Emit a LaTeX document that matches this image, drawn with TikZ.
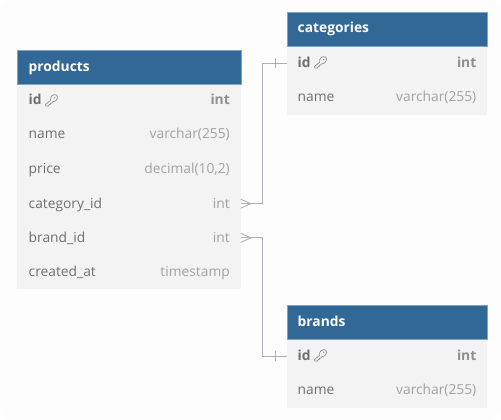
\documentclass[tikz,border=0pt]{standalone}
\usepackage{fontspec}
\setmainfont{Open Sans}
\definecolor{hdr}{HTML}{316896}
\definecolor{hdrline}{HTML}{7FA3C4}
\definecolor{rowbg}{HTML}{F3F3F3}
\definecolor{fieldc}{HTML}{6F6F6F}
\definecolor{typec}{HTML}{A3A3A3}
\definecolor{typeb}{HTML}{8F8F8F}
\definecolor{linkc}{HTML}{B0AFB8}
\definecolor{pagebg}{HTML}{FDFDFD}
\tikzset{
  x=1pt,y=-1pt,
  header/.style={fill=hdr,draw=hdrline,line width=0.5pt,minimum height=34pt,inner sep=0pt,outer sep=0pt,anchor=north west},
  headtext/.style={text=white,font=\fontsize{13.8}{16}\selectfont\bfseries,anchor=base west,inner sep=0pt},
  rowbox/.style={fill=rowbg,minimum height=34.2pt,inner sep=0pt,outer sep=0pt,anchor=north west},
  fname/.style={text=fieldc,font=\fontsize{13.8}{16}\selectfont,anchor=base west,inner sep=0pt},
  fnamek/.style={text=fieldc,font=\fontsize{13.8}{16}\selectfont\bfseries,anchor=base west,inner sep=0pt},
  ftype/.style={text=typec,font=\fontsize{13.8}{16}\selectfont,anchor=base east,inner sep=0pt},
  ftypek/.style={text=typeb,font=\fontsize{13.8}{16}\selectfont\bfseries,anchor=base east,inner sep=0pt},
  link/.style={draw=linkc,line width=1.1pt},
  keyicon/.style={draw=typeb,line width=0.7pt,line join=round}
}
\newcommand{\keyat}[2]{%
  \begin{scope}[shift={(#1,#2)},scale=1.3]
    \draw[keyicon] (3.4,-3.6) .. controls (2.6,-6.8) and (6,-8.9) .. (8,-7.6) .. controls (9.6,-6) and (8.2,-2.6) .. (5.1,-2.5) -- (4.2,-1.4) -- (3.3,-1.4) -- (3.2,-0.4) -- (2.1,-0.3) -- (1.9,0.7) -- (-0.4,0.8) -- (-0.5,-0.4) -- cycle;
    \fill[typeb] (6.6,-5.7) circle[radius=0.6];
  \end{scope}}
\begin{document}
\begin{tikzpicture}
\useasboundingbox (0,0) rectangle (501,420);
\fill[white] (0,0) rectangle (501,420);
\fill[pagebg,rounded corners=12pt] (0,0) rectangle (501,420);
% products
\node[rowbox,minimum width=223.5pt] (pid) at (17.25,84) {};
\node[rowbox,minimum width=223.5pt] (pname) at (17.25,118.2) {};
\node[rowbox,minimum width=223.5pt] (pprice) at (17.25,152.4) {};
\node[rowbox,minimum width=223.5pt] (pcat) at (17.25,186.6) {};
\node[rowbox,minimum width=223.5pt] (pbrand) at (17.25,220.8) {};
\node[rowbox,minimum width=223.5pt] (pcreated) at (17.25,255) {};
\node[header,minimum width=223.5pt] (phead) at (17.25,50.25) {};
\node[headtext] (pht) at (28.5,71) {products};
\node[fnamek] (pn1) at (28.5,105) {id};
\node[ftypek] (pt1) at (230,105) {int};
\node[fname] (pn2) at (28.5,139) {name};
\node[ftype] (pt2) at (230,139) {varchar(255)};
\node[fname] (pn3) at (28.5,173.5) {price};
\node[ftype] (pt3) at (230,173.5) {decimal(10,2)};
\node[fname] (pn4) at (28.5,208) {category\_id};
\node[ftype] (pt4) at (230,208) {int};
\node[fname] (pn5) at (28.5,242) {brand\_id};
\node[ftype] (pt5) at (230,242) {int};
\node[fname] (pn6) at (28.5,276) {created\_at};
\node[ftype] (pt6) at (230,276) {timestamp};
\keyat{46.2}{105}
% categories
\node[rowbox,minimum width=200.5pt,minimum height=34.5pt] (cid) at (286.75,46) {};
\node[rowbox,minimum width=200.5pt,minimum height=34.5pt] (cname) at (286.75,80.5) {};
\node[header,minimum width=200.5pt] (chead) at (286.75,12.25) {};
\node[headtext] (cht) at (297.5,33) {categories};
\node[fnamek] (cn1) at (297.5,67) {id};
\node[ftypek] (ct1) at (476.5,67) {int};
\node[fname] (cn2) at (297.5,101.5) {name};
\node[ftype] (ct2) at (476.5,101.5) {varchar(255)};
\keyat{315.2}{67}
% brands
\node[rowbox,minimum width=200.5pt,minimum height=34.5pt] (bid) at (286.75,339) {};
\node[rowbox,minimum width=200.5pt,minimum height=34.5pt] (bname) at (286.75,373.5) {};
\node[header,minimum width=200.5pt] (bhead) at (286.75,305.25) {};
\node[headtext] (bht) at (297.5,326) {brands};
\node[fnamek] (bn1) at (297.5,360) {id};
\node[ftypek] (bt1) at (476.5,360) {int};
\node[fname] (bn2) at (297.5,394.5) {name};
\node[ftype] (bt2) at (476.5,394.5) {varchar(255)};
\keyat{315.2}{360}
% connectors
\draw[link] (pcat.east) -- ++(22,0) |- (cid.west);
\draw[link] (pbrand.east) -- ++(22,0) |- (bid.west);
% crow's feet
\draw[link,line width=0.9pt] ([yshift=-4.5pt]pcat.east) -- ([xshift=10pt]pcat.east) -- ([yshift=4.5pt]pcat.east);
\draw[link,line width=0.9pt] ([yshift=-4.5pt]pbrand.east) -- ([xshift=10pt]pbrand.east) -- ([yshift=4.5pt]pbrand.east);
% one marks
\draw[link,line width=0.9pt] ([xshift=-11pt,yshift=-5pt]cid.west) -- ([xshift=-11pt,yshift=5pt]cid.west);
\draw[link,line width=0.9pt] ([xshift=-11pt,yshift=-5pt]bid.west) -- ([xshift=-11pt,yshift=5pt]bid.west);
\end{tikzpicture}
\end{document}
